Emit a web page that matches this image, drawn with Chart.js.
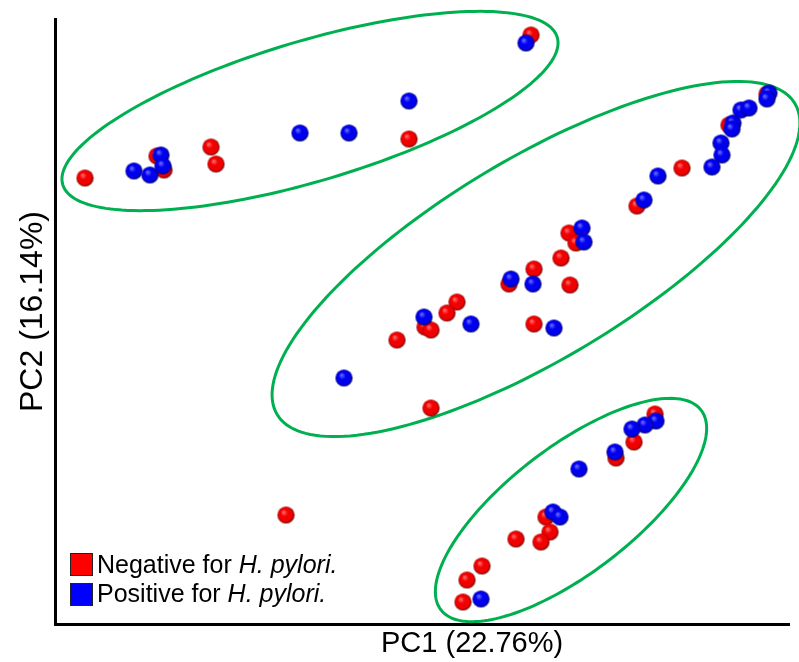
<!DOCTYPE html>
<html>
<head>
<meta charset="utf-8">
<script src="https://cdn.jsdelivr.net/npm/chart.js@4.4.1/dist/chart.umd.min.js"></script>
<style>
  body { margin: 0; background: #fff; }
  #wrap { position: relative; width: 799px; height: 662px; font-family: "Liberation Sans", Arial, sans-serif; color: #000; }
  #pca { position: absolute; left: 0; top: 0; }
  .lbl { position: absolute; line-height: 1; white-space: nowrap; }
  .sq { position: absolute; width: 21px; height: 21px; border: 1px solid #222; }
</style>
</head>
<body>
<div id="wrap">
  <canvas id="pca" width="799" height="662"></canvas>
  <div class="lbl" style="left:381px;top:628px;font-size:29px;">PC1 (22.76%)</div>
  <div class="lbl" style="left:15px;top:412px;font-size:32px;transform:rotate(-90deg);transform-origin:0 0;">PC2 (16.14%)</div>
  <div class="sq" style="left:70px;top:553px;background:#ff0000;"></div>
  <div class="sq" style="left:70px;top:583px;background:#0000ff;"></div>
  <div class="lbl" style="left:97px;top:552px;font-size:25px;">Negative for <i>H. pylori.</i></div>
  <div class="lbl" style="left:97px;top:581px;font-size:25px;">Positive for <i>H. pylori.</i></div>
</div>
<script>
// PCA scores (PC1, PC2), in plot units
var negative = [
  [30, 446], [102, 468], [109, 454], [156, 477], [161, 460], [354, 485], [476, 589],
  [712, 530], [674, 499], [627, 456], [582, 418], [514, 391], [521, 381], [506, 366],
  [479, 355], [454, 340], [515, 339], [402, 322], [392, 311], [370, 297], [376, 294],
  [342, 284], [479, 300], [376, 216],
  [600, 210], [579, 182], [561, 166], [491, 107], [495, 92], [486, 82], [461, 85],
  [427, 58], [412, 44], [408, 22],
  [231, 109]
];
var positive = [
  [79, 453], [95, 449], [106, 469], [108, 458], [245, 491], [294, 491], [354, 523], [471, 581],
  [714, 531], [712, 525], [686, 514], [694, 516], [678, 501], [677, 495], [666, 481],
  [667, 469], [657, 457], [603, 448], [589, 424], [527, 396], [529, 382], [456, 345],
  [478, 340], [369, 307], [416, 300], [499, 296], [289, 246],
  [601, 203], [590, 199], [577, 195], [560, 172], [524, 155], [498, 112], [505, 107],
  [426, 25]
];
// cluster ellipses: centre x, centre y, semi-axis a, semi-axis b, tilt (deg)
var clusters = [
  [255, 513, 258, 70, 16.6],
  [481, 365, 302, 100, 31.0],
  [516, 114, 164, 63, 37.5]
];
var xRange = [0, 734];
var yRange = [0, 605];

function toXY(list) {
  return list.map(function (p) { return { x: p[0], y: p[1] }; });
}

// shaded ball sprite used as the point style
function ball(light, mid, dark) {
  var c = document.createElement("canvas");
  c.width = 19; c.height = 19;
  var g = c.getContext("2d");
  var grad = g.createRadialGradient(7, 6.5, 0.5, 9.5, 9.5, 9);
  grad.addColorStop(0, light);
  grad.addColorStop(0.35, mid);
  grad.addColorStop(0.75, mid);
  grad.addColorStop(0.9, dark);
  grad.addColorStop(1, "#111");
  g.fillStyle = grad;
  g.beginPath();
  g.arc(9.5, 9.5, 8.6, 0, Math.PI * 2);
  g.fill();
  return c;
}

var ellipsePlugin = {
  id: "clusterEllipses",
  beforeDatasetsDraw: function (chart) {
    var ctx = chart.ctx, sx = chart.scales.x, sy = chart.scales.y;
    ctx.save();
    ctx.strokeStyle = "#00b050";
    ctx.lineWidth = 3;
    clusters.forEach(function (e) {
      var t0 = e[4] * Math.PI / 180, c = Math.cos(t0), s = Math.sin(t0);
      ctx.beginPath();
      for (var i = 0; i <= 180; i++) {
        var t = i / 180 * Math.PI * 2;
        var u = e[2] * Math.cos(t), v = e[3] * Math.sin(t);
        var px = sx.getPixelForValue(e[0] + u * c - v * s);
        var py = sy.getPixelForValue(e[1] + u * s + v * c);
        if (i === 0) ctx.moveTo(px, py); else ctx.lineTo(px, py);
      }
      ctx.closePath();
      ctx.stroke();
    });
    ctx.restore();
  }
};

new Chart(document.getElementById("pca"), {
  type: "scatter",
  data: {
    datasets: [
      {
        label: "Negative for H. pylori.",
        data: toXY(negative),
        pointStyle: ball("#ff6a6a", "#f20000", "#a00000"),
        pointRadius: 8.5,
        order: 1
      },
      {
        label: "Positive for H. pylori.",
        data: toXY(positive),
        pointStyle: ball("#6a6aff", "#0000f0", "#00009a"),
        pointRadius: 8.5,
        order: 0
      }
    ]
  },
  options: {
    responsive: false,
    animation: false,
    events: [],
    layout: { padding: { left: 55, top: 19, right: 10, bottom: 38 } },
    plugins: { legend: { display: false }, tooltip: { enabled: false } },
    scales: {
      x: {
        min: xRange[0], max: xRange[1],
        grid: { display: false, drawTicks: false },
        ticks: { display: false },
        border: { display: true, color: "#000", width: 3 }
      },
      y: {
        min: yRange[0], max: yRange[1],
        grid: { display: false, drawTicks: false },
        ticks: { display: false },
        border: { display: true, color: "#000", width: 3 }
      }
    }
  },
  plugins: [ellipsePlugin]
});
</script>
</body>
</html>
